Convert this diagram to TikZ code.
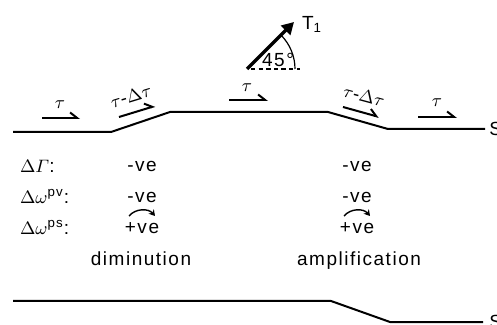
\documentclass[tikz,border=0pt]{standalone}
\usepackage{amsmath}
\usepackage[no-math]{fontspec}
\setmainfont{Liberation Sans}[LetterSpace=8]
\usetikzlibrary{arrows.meta}

\begin{document}
\begin{tikzpicture}[x=0.5pt, y=0.5pt, font=\fontsize{9.5}{11}\selectfont,
  wall/.style={line width=1pt, line join=round},
  shear/.style={line width=1pt, -{Straight Barb[left, length=3.5pt, width=5.5pt]}},
  turn/.style={line width=0.7pt, -{Stealth[length=3pt, width=3.5pt]}},
  sign/.style={anchor=base}]
  \useasboundingbox (0,0) rectangle (497,-325);

  % Upper boundary
  \draw[wall] (13,-132) -- (111,-132) -- (170,-112) -- (328,-112) -- (388,-129) -- (485,-129);
  \node[anchor=west, inner sep=0] (sTop) at (489,-129) {S};

  % Shear stresses on the wall
  \coordinate (a1) at (42,-118);  \coordinate (b1) at (80,-118);
  \coordinate (a2) at (119,-117); \coordinate (b2) at (155,-106);
  \coordinate (a3) at (229,-100); \coordinate (b3) at (268,-100);
  \coordinate (a4) at (343,-107); \coordinate (b4) at (379,-117);
  \coordinate (a5) at (418,-117); \coordinate (b5) at (457,-117);
  \draw[shear] (a1) -- (b1);
  \draw[shear] (a2) -- (b2);
  \draw[shear] (a3) -- (b3);
  \draw[shear] (a4) -- (b4);
  \draw[shear] (a5) -- (b5);
  \node (tau1) at (60,-105) {$\tau$};
  \node[rotate=17] (tauD1) at (131,-96) {$\tau$-$\Delta\tau$};
  \node (tau3) at (247,-88) {$\tau$};
  \node[rotate=-15] (tauD2) at (364,-96) {$\tau$-$\Delta\tau$};
  \node (tau5) at (437,-103) {$\tau$};

  % Applied stress T1 at 45 degrees
  \coordinate (o) at (247,-69);
  \coordinate (tip) at (294,-22);
  \draw[line width=1.6pt, -{Triangle[length=6pt, width=6.5pt]}] (o) -- (tip);
  \draw[line width=0.6pt, dash pattern=on 2.2pt off 1.6pt] (251,-69) -- (300,-69);
  \draw[line width=0.6pt] (o) ++(48,0) arc (0:45:48);
  \node (T1) at (312,-24) {T\textsubscript{1}};
  \node (ang) at (278,-60) {45°};

  % Signs of the changes
  \node[anchor=base west] (dG) at (13,-173) {$\Delta\varGamma$:};
  \node[anchor=base west] (dwpv) at (13,-204) {$\Delta\omega^{\text{pv}}$:};
  \node[anchor=base west] (dwps) at (13,-235) {$\Delta\omega^{\text{ps}}$:};

  \node[sign] (g1) at (142,-172) {-ve};
  \node[sign] (pv1) at (142,-203) {-ve};
  \node[sign] (ps1) at (142,-234) {+ve};
  \coordinate (c1) at (129,-216); \coordinate (d1) at (155,-216);
  \draw[turn] (c1) to[bend left=50] (d1);
  \node[anchor=base] (dim) at (141,-266) {diminution};

  \node[sign] (g2) at (357,-172) {-ve};
  \node[sign] (pv2) at (357,-203) {-ve};
  \node[sign] (ps2) at (357,-234) {+ve};
  \coordinate (c2) at (344,-216); \coordinate (d2) at (370,-216);
  \draw[turn] (c2) to[bend left=50] (d2);
  \node[anchor=base] (amp) at (359,-266) {amplification};

  % Lower boundary
  \draw[wall] (13,-301) -- (331,-301) -- (390,-322) -- (483,-322);
  \node[anchor=west, inner sep=0] (sBot) at (489,-322) {S};
\end{tikzpicture}
\end{document}
